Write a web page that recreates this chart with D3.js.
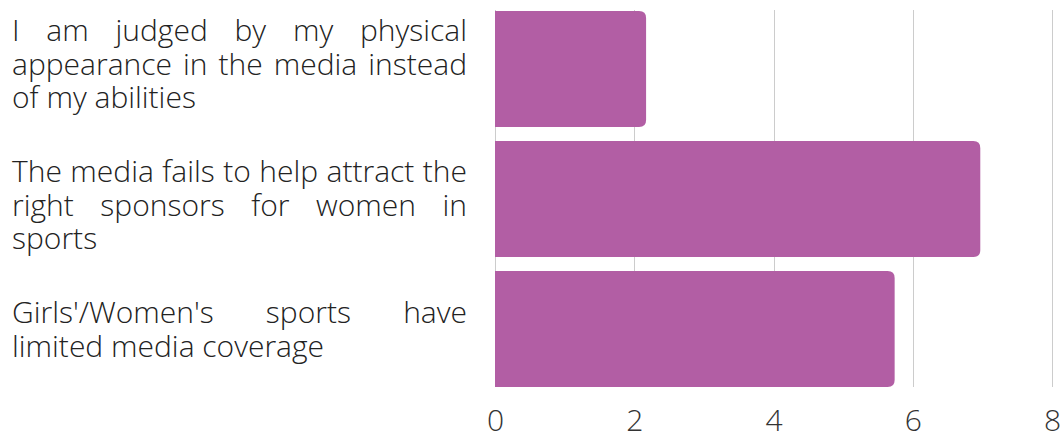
<!DOCTYPE html>
<html>
<head>
<meta charset="utf-8">
<script src="https://cdn.jsdelivr.net/npm/d3@7/dist/d3.min.js"></script>
<style>
  html, body { margin: 0; padding: 0; background: #fff; }
  svg { display: block; }
  text { font-family: "Open Sans", "Noto Sans", sans-serif; font-weight: 300; }
</style>
</head>
<body>
<svg id="chart" width="1061" height="432"></svg>
<script>
// Survey statements (line breaks mark where each label wraps) and mean responses
const categories = [
  "I am judged by my physical\nappearance in the media instead\nof my abilities",
  "The media fails to help attract the\nright sponsors for women in\nsports",
  "Girls'/Women's sports have\nlimited media coverage"
];
const values = [2.17, 6.97, 5.74];
const tickValues = [0, 2, 4, 6, 8];

const plot = { left: 495, right: 1052, top: 10, bottom: 387 };
const barColor = "#b25ea4";
const gridColor = "#cccccc";
const textColor = "#222222";

const svg = d3.select("#chart");

const x = d3.scaleLinear().domain([0, 8]).range([plot.left, plot.right]);
const y = d3.scaleBand().domain(categories).range([plot.top + 1, plot.bottom])
  .paddingInner(14 / 130).paddingOuter(0);

// Vertical gridlines
svg.append("g")
  .selectAll("line")
  .data(tickValues)
  .join("line")
  .attr("x1", d => Math.round(x(d)) + 0.5)
  .attr("x2", d => Math.round(x(d)) + 0.5)
  .attr("y1", plot.top)
  .attr("y2", plot.bottom)
  .attr("stroke", gridColor)
  .attr("stroke-width", 1);

// Bars: square on the baseline, rounded on the value end
const r = 7;
function barPath(x0, x1, y0, h) {
  const rr = Math.min(r, (x1 - x0) / 2, h / 2);
  return `M${x0},${y0}H${x1 - rr}Q${x1},${y0} ${x1},${y0 + rr}` +
         `V${y0 + h - rr}Q${x1},${y0 + h} ${x1 - rr},${y0 + h}H${x0}Z`;
}
svg.append("g")
  .selectAll("path")
  .data(categories.map((c, i) => ({ c, v: values[i] })))
  .join("path")
  .attr("d", d => barPath(x(0), x(d.v), y(d.c), y.bandwidth()))
  .attr("fill", barColor);

// Bottom axis labels
const xAxis = d3.axisBottom(x).tickValues(tickValues).tickSize(0).tickPadding(0)
  .tickFormat(d3.format("d"));
const axisG = svg.append("g").attr("transform", `translate(0,${plot.bottom})`).call(xAxis);
axisG.select(".domain").remove();
axisG.selectAll("text")
  .attr("dy", null)
  .attr("y", 44)
  .attr("font-size", 30)
  .attr("font-family", "\"Open Sans\", \"Noto Sans\", sans-serif")
  .attr("font-weight", 300)
  .attr("fill", "#333333");

// Justified category labels
const labelLeft = 12, labelWidth = 455, fontSize = 30, lineHeight = 33.6;
const labelY = d3.scalePoint().domain(categories).range([41, 323]);

const measurer = svg.append("text").attr("font-size", fontSize).attr("visibility", "hidden");
function measure(s) {
  measurer.text(s);
  return measurer.node().getComputedTextLength();
}
const spaceW = measure("a b") - measure("ab");

const labelsG = svg.append("g");
categories.forEach(cat => {
  const lines = cat.split("\n").map(l => l.split(" "));
  const g = labelsG.append("text")
    .attr("font-size", fontSize)
    .attr("fill", textColor);
  lines.forEach((words, li) => {
    const baseline = labelY(cat) + li * lineHeight;
    const widths = words.map(measure);
    const last = li === lines.length - 1;
    let gap = spaceW;
    if (!last && words.length > 1) {
      gap = (labelWidth - d3.sum(widths)) / (words.length - 1);
    }
    let cx = labelLeft;
    words.forEach((w, wi) => {
      g.append("tspan").attr("x", cx).attr("y", baseline).text(w);
      cx += widths[wi] + gap;
    });
  });
});
measurer.remove();
</script>
</body>
</html>
